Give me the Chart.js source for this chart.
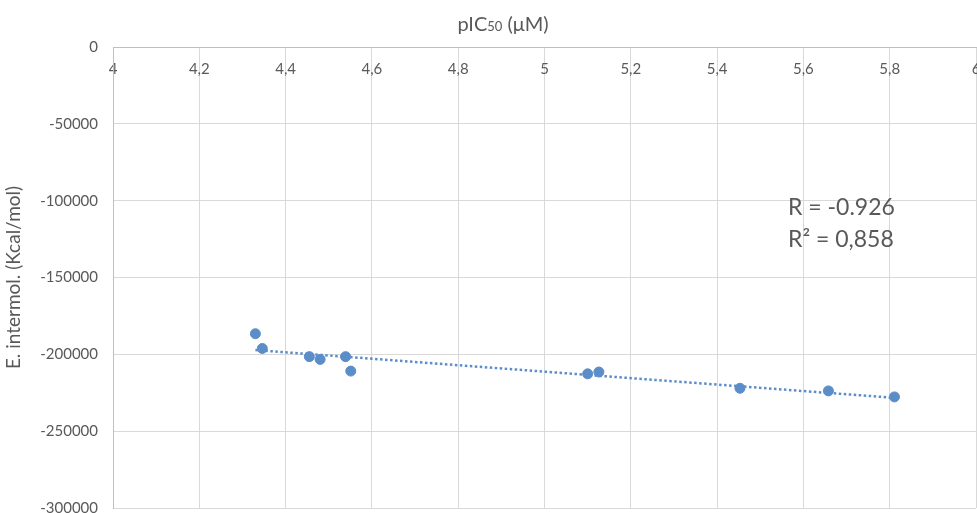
<!DOCTYPE html>
<html>
<head>
<meta charset="utf-8">
<script src="https://cdn.jsdelivr.net/npm/chart.js@4"></script>
<style>
  body { margin: 0; background: #fff; }
  #wrap { width: 977px; height: 513px; }
</style>
</head>
<body>
<div id="wrap"><canvas id="chart"></canvas></div>
<script>
// pIC50 values (x) and intermolecular energy (y)
var pic50 = [4.33, 4.346, 4.455, 4.48, 4.539, 4.551, 5.10, 5.126, 5.453, 5.658, 5.811];
var energy = [-186600, -196200, -201500, -203300, -201500, -210900, -212700, -211500, -222100, -223800, -227700];

// linear trendline ends
var trendX = [4.33, 5.81];
var trendY = [-197200, -228300];

var xTitle = ['pIC', '50', ' (\u03bcM)'];
var yTitle = 'E. intermol. (Kcal/mol)';
var rText = 'R = -0.926';
var r2Text = 'R\u00b2 = 0,858';

var grey = '#595959';
var blue = '#5b8ec8';
var font = 'Lato, "Open Sans", sans-serif';

var points = pic50.map(function(x, i) { return { x: x, y: energy[i] }; });
var trend = trendX.map(function(x, i) { return { x: x, y: trendY[i] }; });

var texts = {
  id: 'texts',
  afterDraw: function(chart) {
    var ctx = chart.ctx;
    ctx.save();
    ctx.fillStyle = grey;
    ctx.textBaseline = 'alphabetic';
    ctx.textAlign = 'left';

    // axis title with small "50"
    var fonts = ['20px ' + font, '13px ' + font, '20px ' + font];
    var total = 0;
    xTitle.forEach(function(t, i) { ctx.font = fonts[i]; total += ctx.measureText(t).width; });
    var x = 503 - total / 2;
    xTitle.forEach(function(t, i) {
      ctx.font = fonts[i];
      ctx.fillText(t, x, 31);
      x += ctx.measureText(t).width;
    });

    ctx.font = '23px ' + font;
    ctx.fillText(rText, 788, 215);
    ctx.fillText(r2Text, 788, 247);
    ctx.restore();
  }
};

var ctx = document.getElementById('chart');

var chart = new Chart(ctx, {
  type: 'scatter',
  data: {
    datasets: [{
      data: points,
      backgroundColor: blue,
      borderColor: blue,
      pointRadius: 5,
      pointHoverRadius: 5
    }, {
      data: trend,
      showLine: true,
      borderColor: blue,
      borderWidth: 2.5,
      borderDash: [2.5, 2.5],
      pointRadius: 0,
      fill: false
    }]
  },
  options: {
    responsive: true,
    maintainAspectRatio: false,
    animation: false,
    layout: { autoPadding: false, padding: { top: 0, right: 1, bottom: 5, left: 0 } },
    plugins: {
      legend: { display: false },
      tooltip: { enabled: false }
    },
    scales: {
      x: {
        type: 'linear',
        position: 'top',
        min: 4,
        max: 6,
        ticks: {
          stepSize: 0.2,
          mirror: true,
          padding: 13,
          color: grey,
          font: { family: font, size: 15 },
          maxRotation: 0,
          callback: function(v) { return String(Math.round(v * 10) / 10).replace('.', ','); }
        },
        grid: { color: '#d9d9d9', drawTicks: false },
        border: { color: '#bfbfbf' },
        afterFit: function(scale) {
          scale.height = 47;
          scale.paddingLeft = 0;
          scale.paddingRight = 0;
        }
      },
      y: {
        type: 'linear',
        min: -300000,
        max: 0,
        ticks: {
          stepSize: 50000,
          padding: 15,
          color: grey,
          font: { family: font, size: 15 },
          callback: function(v) { return String(v); }
        },
        grid: { color: '#d9d9d9', drawTicks: false },
        border: { color: '#bfbfbf' },
        title: {
          display: true,
          text: yTitle,
          color: grey,
          font: { family: font, size: 19 },
          padding: { top: 2, bottom: 0 }
        },
        afterFit: function(scale) {
          scale.width = 113;
          scale.paddingTop = 0;
          scale.paddingBottom = 0;
        }
      }
    }
  },
  plugins: [texts]
});
</script>
</body>
</html>
